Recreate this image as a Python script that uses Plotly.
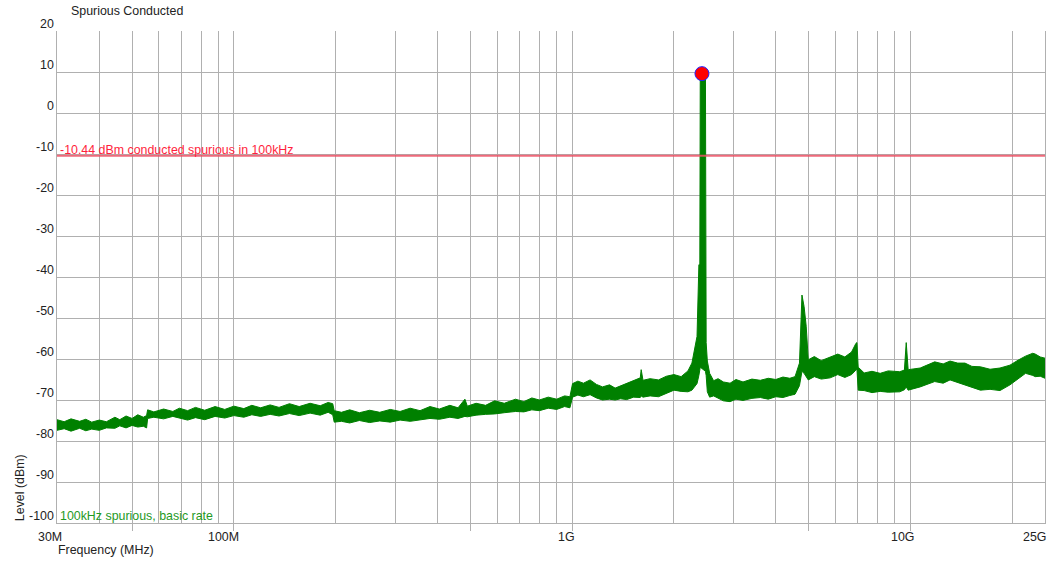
import numpy as np
import plotly.graph_objects as go

# ---------------- data ----------------
title_text = "Spurious Conducted"
trace_name = "100kHz spurious, basic rate"
limit_label = "-10.44 dBm conducted spurious in 100kHz"
limit_dbm = -10.44

freq_mhz = [30, 31.5, 33, 35, 36.5, 38, 40, 42, 44.5, 46, 48, 50, 52, 54, 55.2, 55.6,
            58, 62, 66, 69, 73, 77, 82, 88, 94, 100, 107, 113, 120, 128, 136, 146, 156,
            168, 180, 190, 196, 198, 208, 220, 235, 252, 270, 290, 310, 332, 355, 380,
            405, 435, 460, 482, 490, 520, 555, 590, 630, 680, 720, 760, 800, 850, 900,
            950, 985, 1003, 1040, 1080, 1130, 1180, 1230, 1290, 1340, 1390, 1450, 1520,
            1590, 1600, 1620, 1700, 1800, 1900, 2000, 2100, 2200, 2260, 2300, 2340, 2370,
            2385, 2392, 2478, 2490, 2510, 2550, 2620, 2700, 2800, 2930, 3050, 3200, 3400,
            3600, 3800, 4000, 4200, 4400, 4560, 4700, 4780, 4850, 4920, 4990, 5200, 5450,
            5790, 6100, 6400, 6700, 6900, 6950, 7010, 7300, 7700, 8140, 8600, 9300, 9600,
            9720, 9850, 10690, 11800, 12500, 13100, 13800, 14500, 15200, 16100, 17200,
            18400, 19700, 20800, 21900, 23000, 23400, 24200, 25000]

upper_dbm = [-74.8, -75.3, -74.6, -75.2, -74.7, -75.4, -74.9, -75.3, -74.2, -74.8, -73.9,
             -74.5, -73.6, -74.2, -73.8, -72.4, -72.9, -72.2, -72.8, -72.0, -72.6, -71.8,
             -72.5, -71.6, -72.3, -71.5, -72.1, -71.3, -71.9, -71.2, -71.8, -70.9, -71.6,
             -70.8, -71.4, -70.6, -70.9, -72.6, -73.0, -72.4, -73.1, -72.5, -73.0, -72.3,
             -72.8, -72.0, -72.6, -71.6, -72.2, -71.3, -71.9, -69.8, -71.5, -70.8, -71.3,
             -70.2, -70.8, -69.8, -70.4, -69.5, -70.0, -69.3, -69.8, -69.0, -69.2, -66.0,
             -65.4, -65.9, -65.1, -66.2, -66.8, -66.3, -67.1, -66.6, -66.0, -65.3, -64.6,
             -62.6, -65.2, -64.8, -65.1, -64.2, -63.8, -64.3, -62.9, -61.0, -58.0, -54.5,
             -37.0, -37.0, 9.6, 9.6, -56.0, -60.5, -63.5, -65.3, -64.8, -65.6, -65.9,
             -65.0, -65.6, -64.9, -65.2, -64.7, -65.0, -64.4, -64.7, -64.3, -61.0, -44.4,
             -47.2, -52.0, -60.2, -59.4, -60.4, -59.6, -58.8, -59.5, -58.3, -56.2, -56.0,
             -62.0, -63.4, -63.0, -63.5, -62.9, -63.1, -62.7, -56.0, -62.6, -62.2, -60.7,
             -61.2, -60.5, -61.0, -61.0, -61.8, -61.9, -62.5, -62.2, -61.5, -60.3, -59.3,
             -58.6, -58.8, -59.5, -59.8]

lower_dbm = [-77.4, -77.0, -77.6, -76.9, -77.5, -77.1, -77.4, -76.8, -76.9, -76.3, -76.8,
             -76.2, -76.6, -76.4, -76.8, -74.5, -74.2, -74.6, -74.0, -74.4, -74.9, -74.3,
             -74.8, -74.0, -74.4, -73.8, -74.2, -73.6, -74.0, -73.5, -73.9, -73.3, -73.8,
             -73.2, -73.7, -73.0, -73.6, -75.4, -75.2, -75.6, -75.0, -75.5, -75.1, -75.4,
             -74.9, -75.2, -74.8, -74.5, -74.7, -74.2, -74.5, -74.0, -74.1, -73.7, -73.5,
             -73.4, -73.1, -72.8, -72.9, -72.4, -72.6, -72.0, -72.3, -71.6, -71.9, -69.3,
             -68.8, -69.2, -68.7, -69.5, -70.0, -69.8, -70.0, -69.7, -69.9, -69.3, -69.4,
             -69.0, -69.3, -69.0, -69.2, -68.4, -67.6, -67.9, -68.0, -67.6, -66.8, -66.0,
             -64.0, -63.0, -62.0, -63.0, -64.0, -68.0, -69.3, -69.0, -69.6, -70.2, -70.4,
             -69.8, -70.1, -69.6, -69.4, -69.8, -69.2, -69.4, -68.9, -68.6, -66.5, -63.0,
             -63.5, -64.5, -65.1, -64.3, -64.9, -64.6, -63.8, -64.5, -63.8, -62.7, -62.5,
             -67.6, -67.7, -68.2, -67.9, -68.1, -68.0, -67.5, -66.8, -67.6, -66.8, -65.5,
             -65.9, -65.1, -65.7, -66.3, -66.9, -67.6, -67.4, -67.7, -66.3, -64.8, -63.5,
             -64.0, -64.3, -64.2, -64.7]

peak_freq_mhz = [2420]
peak_dbm = [9.6]

y_ticks = [20, 10, 0, -10, -20, -30, -40, -50, -60, -70, -80, -90, -100]
x_tick_vals = [30, 100, 1000, 10000, 25000]
x_tick_text = ["30M", "100M", "1G", "10G", "25G"]
x_tick_shift = [7, 7, 5, 6, 3]
x_major = [50, 100, 500, 1000, 5000, 10000]
x_minor = [40, 60, 70, 80, 90, 200, 300, 400, 600, 700, 800, 900,
           2000, 3000, 4000, 6000, 7000, 8000, 9000, 20000, 25000]

# ---------------- styles ----------------
FONT = "Liberation Sans, Arial, sans-serif"
FS = 12.4
GRID = "#b0b0b0"
GREEN = "#008000"

fig = go.Figure()

fig.add_trace(go.Scatter(x=freq_mhz, y=lower_dbm, mode="lines",
                         line=dict(color=GREEN, width=1), hoverinfo="skip",
                         showlegend=False))
fig.add_trace(go.Scatter(x=freq_mhz, y=upper_dbm, mode="lines", fill="tonexty",
                         fillcolor=GREEN, line=dict(color=GREEN, width=1),
                         hoverinfo="skip", showlegend=False))

fig.add_trace(go.Scatter(x=[freq_mhz[0], freq_mhz[-1]], y=[limit_dbm, limit_dbm],
                         mode="lines", line=dict(color="rgba(236,80,100,0.85)", width=2),
                         hoverinfo="skip", showlegend=False))

fig.add_trace(go.Scatter(x=peak_freq_mhz, y=peak_dbm, mode="markers",
                         marker=dict(size=14, color="#ff0000",
                                     line=dict(color="#2020ff", width=1)),
                         hoverinfo="skip", showlegend=False))

annotations = []
# title
annotations.append(dict(text=title_text, xref="paper", yref="paper", x=0, y=1,
                        xanchor="left", yanchor="middle", xshift=12, yshift=20,
                        showarrow=False, font=dict(size=FS, color="#222")))
# y tick labels
for v in y_ticks:
    annotations.append(dict(text=str(v), xref="paper", yref="y", x=0, y=v,
                            xanchor="right", yanchor="middle", xshift=-1, yshift=7,
                            showarrow=False, font=dict(size=FS, color="#222")))
# x tick labels
for v, t, s in zip(x_tick_vals, x_tick_text, x_tick_shift):
    annotations.append(dict(text=t, xref="x", yref="paper", x=np.log10(v), y=0,
                            xanchor="right", yanchor="middle", xshift=s, yshift=-14,
                            showarrow=False, font=dict(size=FS, color="#222")))
# axis titles
annotations.append(dict(text="Frequency (MHz)", xref="paper", yref="paper", x=0, y=0,
                        xanchor="left", yanchor="middle", xshift=-1, yshift=-27,
                        showarrow=False, font=dict(size=FS, color="#222")))
annotations.append(dict(text="Level (dBm)", xref="paper", yref="y", x=0, y=-91.5,
                        xanchor="center", yanchor="middle", xshift=-37, textangle=-90,
                        showarrow=False, font=dict(size=FS, color="#222")))
# limit label
annotations.append(dict(text=limit_label, xref="paper", yref="y", x=0, y=limit_dbm,
                        xanchor="left", yanchor="middle", xshift=1, yshift=6,
                        showarrow=False, font=dict(size=FS, color="#ff1f3d")))
# trace label
annotations.append(dict(text=trace_name, xref="paper", yref="y", x=0, y=-100,
                        xanchor="left", yanchor="middle", xshift=1, yshift=7,
                        showarrow=False, font=dict(size=FS, color="#1f9a1f")))

fig.update_layout(
    width=1049, height=561,
    margin=dict(l=57, r=4, t=31, b=38),
    paper_bgcolor="white", plot_bgcolor="white",
    font=dict(family=FONT, size=FS, color="#222"),
    annotations=annotations,
    xaxis=dict(type="log", range=[np.log10(30), np.log10(25000)],
               tickvals=x_major, showticklabels=False,
               ticks="outside", ticklen=7, tickcolor=GRID, tickwidth=1,
               showgrid=True, gridcolor=GRID, gridwidth=1,
               minor=dict(tickvals=x_minor, showgrid=True, gridcolor=GRID,
                          gridwidth=1, ticks=""),
               showline=True, linecolor=GRID, linewidth=1,
               zeroline=False, fixedrange=True),
    yaxis=dict(range=[-100, 20], tickvals=[-90, -80, -70, -60, -50, -40, -30, -20,
                                            -10, 0, 10],
               showticklabels=False, ticks="",
               showgrid=True, gridcolor=GRID, gridwidth=1,
               showline=True, linecolor=GRID, linewidth=1, mirror=True,
               zeroline=False, fixedrange=True),
)

# remove the default 8px page margin so the figure sits at the window's corner
fig.write_html("out.html", config={"displayModeBar": False},
               post_script="document.body.style.margin='0';"
                           "document.body.style.overflow='hidden';")
